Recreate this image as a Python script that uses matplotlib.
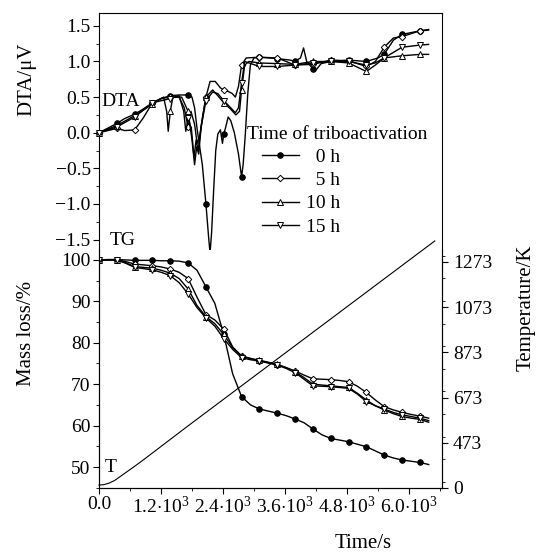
import matplotlib.pyplot as plt
import numpy as np
from matplotlib.ticker import MultipleLocator, FixedLocator

plt.rcParams['font.family'] = ['Liberation Serif', 'DejaVu Serif']
plt.rcParams['mathtext.fontset'] = 'custom'
plt.rcParams['mathtext.rm'] = 'Liberation Serif'
plt.rcParams['mathtext.it'] = 'Liberation Serif:italic'
plt.rcParams['axes.unicode_minus'] = True

# ---- DTA curves (time in s, signal in uV) ----
dta0_t = [0, 345, 500, 690, 850, 1035, 1200, 1380, 1550, 1725, 1800, 1850, 1900, 1950, 2000,
          2070, 2120, 2150, 2180, 2220, 2260, 2300, 2350, 2390, 2415, 2450, 2500, 2550, 2620,
          2700, 2760, 2790, 2830, 2880, 2930, 3000, 3105, 3300, 3450, 3700, 3795, 3900, 3960,
          4020, 4140, 4200, 4300, 4485, 4830, 5175, 5400, 5520, 5700, 5865, 6210, 6380]
dta0_v = [0.0, 0.13, 0.2, 0.26, 0.33, 0.42, 0.48, 0.52, 0.53, 0.53, 0.5, 0.35, 0.05, -0.2, -0.45,
          -1.0, -1.45, -1.69, -1.4, -0.8, -0.25, -0.02, 0.04, -0.15, -0.02, 0.07, 0.22, 0.17, 0.0,
          -0.3, -0.62, -0.45, -0.05, 0.55, 0.95, 1.05, 1.06, 1.05, 1.04, 1.02, 1.0, 1.05, 1.19,
          1.0, 0.9, 0.88, 0.97, 1.0, 1.02, 1.0, 1.05, 1.1, 1.3, 1.38, 1.43, 1.45]

dta5_t = [0, 345, 500, 690, 850, 1035, 1200, 1380, 1550, 1650, 1725, 1780, 1850, 1900, 1950,
          2000, 2070, 2150, 2250, 2350, 2415, 2500, 2580, 2640, 2700, 2760, 2850, 3105, 3450,
          3795, 4140, 4485, 4830, 5175, 5350, 5520, 5700, 5865, 6210, 6380]
dta5_v = [0.0, 0.06, 0.03, 0.04, 0.2, 0.42, 0.48, 0.5, 0.5, 0.35, 0.08, 0.3, 0.12, -0.15, -0.05,
          0.2, 0.5, 0.72, 0.72, 0.63, 0.6, 0.58, 0.55, 0.5, 0.65, 0.95, 1.05, 1.06, 1.05,
          0.95, 0.96, 1.02, 1.01, 0.93, 1.0, 1.2, 1.33, 1.35, 1.43, 1.44]

dta10_t = [0, 345, 690, 1035, 1250, 1310, 1340, 1380, 1430, 1600, 1725, 1800, 1850, 1890, 1930,
           1980, 2070, 2200, 2300, 2415, 2550, 2650, 2720, 2760, 2820, 2900, 3105, 3450, 3795,
           4140, 4485, 4830, 5175, 5350, 5520, 5865, 6210, 6380]
dta10_v = [0.0, 0.1, 0.24, 0.4, 0.5, 0.3, 0.02, 0.3, 0.5, 0.5, 0.3, -0.1, -0.45, -0.2, -0.3,
           0.1, 0.5, 0.6, 0.52, 0.42, 0.33, 0.25, 0.3, 0.6, 0.95, 1.0, 0.98, 0.97, 0.96,
           1.0, 1.0, 0.98, 0.86, 0.95, 1.05, 1.08, 1.1, 1.1]

dta15_t = [0, 345, 690, 1035, 1380, 1550, 1640, 1680, 1725, 1790, 1840, 1880, 1920, 1970, 2070,
           2200, 2300, 2415, 2550, 2640, 2700, 2760, 2820, 3105, 3450, 3795, 4140, 4485, 4830,
           5175, 5350, 5520, 5865, 6210, 6380]
dta15_v = [0.0, 0.08, 0.22, 0.42, 0.48, 0.52, 0.3, 0.02, 0.2, 0.05, -0.35, -0.1, -0.25, 0.05, 0.45,
           0.57, 0.55, 0.45, 0.35, 0.28, 0.35, 0.7, 1.0, 0.93, 0.93, 0.95, 0.98, 1.0, 1.0,
           0.95, 0.98, 1.05, 1.2, 1.23, 1.24]

# ---- TG curves (mass, %) sampled every 172.5 s ----
tg_time = np.arange(0, 6400, 172.5)
tg0 = [100, 100, 100.1, 100, 99.9, 99.9, 99.9, 99.8, 99.8, 99.7, 99.3, 97.5, 93.5, 89.5, 82,
       72.5, 67, 65, 64, 63.5, 63, 62.4, 61.6, 60.7, 59.2, 57.8, 56.9, 56.5, 56.1, 55.5, 54.9,
       53.9, 52.9, 52.2, 51.7, 51.4, 51.1, 50.6]
tg5 = [100, 100.1, 100.1, 99.6, 99.0, 98.8, 98.6, 98.3, 97.8, 97.0, 95.5, 91.0, 86.8, 85.5, 83.3,
       79.0, 76.8, 76.2, 75.6, 75.2, 74.7, 74.0, 73.2, 72.2, 71.3, 71.2, 71.1, 70.9, 70.6, 69.5,
       68.0, 66.2, 64.6, 63.8, 63.2, 62.7, 62.3, 61.8]
tg10 = [100, 100, 100, 99.3, 98.4, 98.2, 98.0, 97.5, 96.8, 95.5, 93.0, 89.0, 86.3, 84.6, 82.0,
        78.8, 76.8, 76.2, 75.8, 75.3, 74.8, 74.0, 73.0, 71.6, 70.0, 69.8, 69.6, 69.4, 69.2, 67.8,
        66.2, 64.8, 63.8, 62.9, 62.2, 61.8, 61.5, 60.8]
tg15 = [100, 100, 100, 99.2, 98.2, 97.9, 97.6, 97.0, 96.2, 94.5, 91.8, 88.5, 86.0, 84.0, 81.0,
        78.4, 76.4, 75.9, 75.6, 75.1, 74.6, 73.8, 72.8, 71.2, 69.6, 69.5, 69.4, 69.2, 69.0, 67.6,
        65.8, 64.8, 64.0, 63.2, 62.6, 62.2, 61.8, 61.2]

# ---- temperature program ----
temp_t = [0, 100, 200, 300, 400, 517, 690, 862, 1035, 1725, 6500]
temp_K = [286, 288, 295, 306, 322, 341, 369, 398, 428, 548, 1366]

labels = ['  0 h', '  5 h', '10 h', '15 h']
styles = [dict(marker='o', markersize=4, markerfacecolor='black'),
          dict(marker='D', markersize=3.3, markerfacecolor='white'),
          dict(marker='^', markersize=4.3, markerfacecolor='white'),
          dict(marker='v', markersize=4.3, markerfacecolor='white')]

xticks = [0, 1200, 2400, 3600, 4800, 6000]
xticklabels = ['0.0', r'$1.2{\cdot}10^3$', r'$2.4{\cdot}10^3$', r'$3.6{\cdot}10^3$',
               r'$4.8{\cdot}10^3$', r'$6.0{\cdot}10^3$']
temp_ticks = [273, 473, 673, 873, 1073, 1273]
temp_labels = ['0', '473', '673', '873', '1073', '1273']

fig = plt.figure(figsize=(5.4, 5.56), dpi=100)
L, W = 99 / 540, 343 / 540
ax_dta = fig.add_axes([L, 1 - 250 / 556, W, 237 / 556])
ax_tg = fig.add_axes([L, 1 - 488 / 556, W, 238 / 556])
ax_T = ax_tg.twinx()

fs = 14
for ax in (ax_dta, ax_tg, ax_T):
    ax.set_xlim(0, 6640)
    ax.tick_params(direction='out', labelsize=fs, width=0.8, length=4, pad=2)
    ax.tick_params(which='minor', direction='out', width=0.6, length=2.5)
    for s in ax.spines.values():
        s.set_linewidth(0.8)

# DTA part
dta_sets = [(dta0_t, dta0_v), (dta5_t, dta5_v), (dta10_t, dta10_v), (dta15_t, dta15_v)]
for (tt, vv), st in zip(dta_sets, styles):
    mk = [i for i, t in enumerate(tt) if t % 345 == 0]
    ax_dta.plot(tt, vv, color='black', lw=1.0, markevery=mk, markeredgewidth=0.7,
                clip_on=False, zorder=3, **st)
ax_dta.set_ylim(-1.647, 1.681)
ax_dta.yaxis.set_major_locator(FixedLocator([-1.5, -1.0, -0.5, 0.0, 0.5, 1.0, 1.5]))
ax_dta.yaxis.set_minor_locator(MultipleLocator(0.25))
ax_dta.set_xticks([])
ax_dta.spines['bottom'].set_visible(False)
ax_dta.text(40, 0.445, 'DTA', fontsize=fs, va='center', ha='left')
ax_dta.text(210, -1.52, 'TG', fontsize=fs, va='center', ha='left')

# TG part
handles = []
for vals, lab, st in zip([tg0, tg5, tg10, tg15], labels, styles):
    h, = ax_tg.plot(tg_time, vals, color='black', lw=1.0, markevery=2, markeredgewidth=0.7,
                    zorder=3, label=lab, **st)
    handles.append(h)
ax_tg.set_ylim(44.93, 102.4)
ax_tg.yaxis.set_major_locator(FixedLocator([50, 60, 70, 80, 90, 100]))
ax_tg.yaxis.set_minor_locator(MultipleLocator(5))
ax_tg.spines['top'].set_visible(False)
ax_tg.set_xticks(xticks)
ax_tg.set_xticklabels(xticklabels)
ax_tg.xaxis.set_minor_locator(MultipleLocator(600))
ax_tg.text(116, 50, 'T', fontsize=fs, va='center', ha='left')

ax_T.plot(temp_t, temp_K, color='black', lw=0.8, clip_on=False)
ax_T.set_ylim(273, 1326)
ax_T.yaxis.set_major_locator(FixedLocator(temp_ticks))
ax_T.set_yticklabels(temp_labels)
ax_T.yaxis.set_minor_locator(MultipleLocator(100))
ax_T.spines['top'].set_visible(False)
ax_T.tick_params(axis='y', pad=4)

fig.text(0.05, 0.858, 'DTA/μV', rotation=90, fontsize=15, ha='center', va='center')
fig.text(0.05, 0.401, 'Mass loss/%', rotation=90, fontsize=15, ha='center', va='center')
fig.text(0.975, 0.446, 'Temperature/K', rotation=90, fontsize=15, ha='center', va='center')
fig.text(0.672, 0.023, 'Time/s', fontsize=15, ha='center', va='center')

# legend: title as separate text, entries indented under it
fig.text(247 / 540, 1 - 134 / 556, 'Time of triboactivation', fontsize=fs, ha='left', va='center')
fig.legend(handles=handles, loc='upper left', bbox_to_anchor=(262 / 540, 1 - 148 / 556),
           frameon=False, fontsize=fs, handlelength=1.9, handletextpad=0.35,
           labelspacing=0.3, borderpad=0, borderaxespad=0)

fig.savefig('out.png', dpi=100)
